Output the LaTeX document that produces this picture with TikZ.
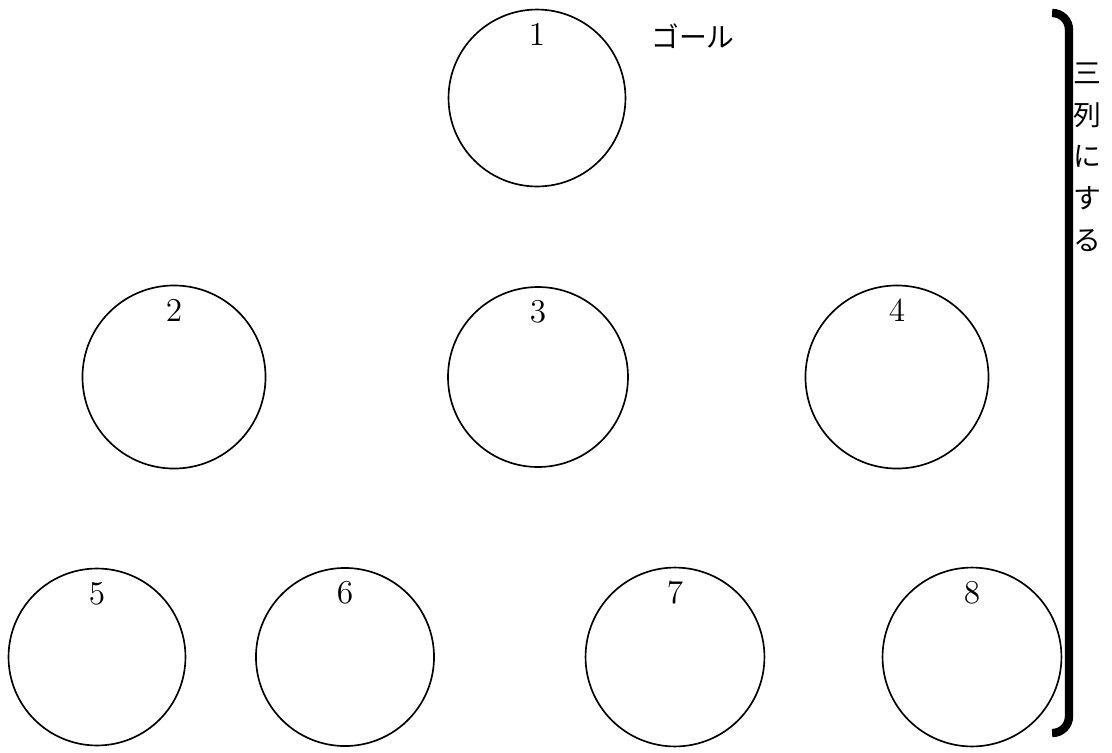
\documentclass[tikz,border=0pt]{standalone}
\usepackage{fontspec}
\newfontfamily\jpfont{Noto Sans CJK JP}
\usetikzlibrary{positioning}

\begin{document}
\begin{tikzpicture}[
  x=0.36pt, y=-0.36pt,
  ring/.style={draw, circle, line width=0.6pt, inner sep=0pt},
  num/.style={font=\large, inner sep=0pt},
  jp/.style={font=\jpfont, inner sep=0pt},
]
\useasboundingbox (0,0) rectangle (1112,753);
% players, one ring each
\foreach \n/\x/\y/\d in {1/537/98/63.7, 2/174/377/65.9, 3/538/377/64.8, 4/897/377/65.9,
                         5/97/657/63.7, 6/345/657/64.1, 7/675/657/64.4, 8/972/657/64.4} {
  \node[ring, minimum size=\d pt] (c\n) at (\x,\y) {};
  \node[num, below=5pt of c\n.north] (n\n) {\n};
}
\node[jp] (goal) at (693,36) {ゴール};
% brace on the right
\coordinate (brtop) at (1053,13);
\coordinate (brbot) at (1053,733);
\draw[line width=3pt, rounded corners=6pt] (brtop) -- ++(16,0) |- (brbot);
\node[jp, align=center, font=\jpfont\fontsize{10}{15}\selectfont] (tate) at (1087,157) {三\\列\\に\\す\\る};
\end{tikzpicture}
\end{document}
